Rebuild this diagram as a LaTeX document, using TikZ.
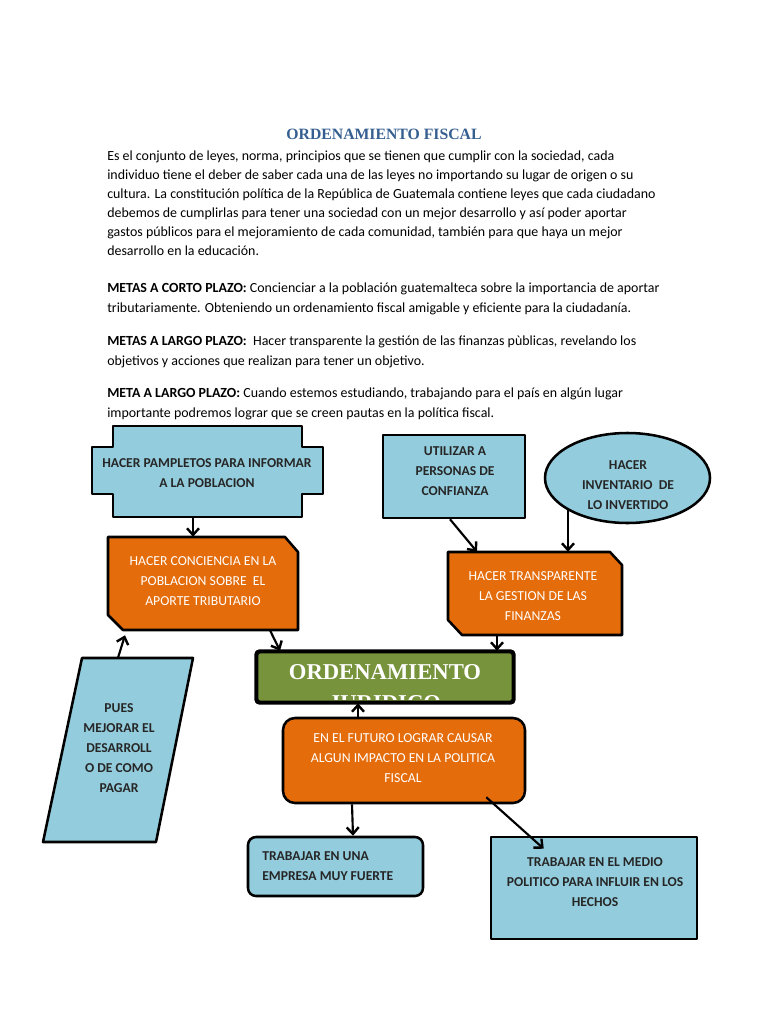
\documentclass[tikz,border=0pt]{standalone}
\usepackage{fontspec}
\setmainfont{Carlito}
\newfontfamily\serifb{Liberation Serif}
\usetikzlibrary{arrows.meta,calc,shapes.geometric}
\definecolor{titleblue}{HTML}{365F91}
\definecolor{lblue}{HTML}{93CDDD}
\definecolor{orng}{HTML}{E46C0A}
\definecolor{olive}{HTML}{77933C}
\definecolor{txtdark}{HTML}{262626}
\begin{document}
\begin{tikzpicture}[x=0.75pt,y=-0.75pt,
  body/.style={anchor=base west, inner sep=0, font=\fontsize{10.45}{12}\selectfont},
  shp/.style={draw=black, line width=1.9pt, line join=round},
  bluebox/.style={shp, fill=lblue},
  orgbox/.style={shp, fill=orng},
  holder/.style={draw=none, inner sep=0},
  btxt/.style={align=center, font=\bfseries\fontsize{10.2}{15}\selectfont, text=txtdark, inner sep=0},
  otxt/.style={align=center, font=\fontsize{10.3}{15}\selectfont, text=white, inner sep=0},
  arr/.style={line width=1.6pt, -{Straight Barb[length=5pt,width=9pt,line width=1.8pt]}}
]
\useasboundingbox (0,0) rectangle (768,1024);
\fill[white] (0,0) rectangle (768,1024);

% ---------- title and text ----------
\node[inner sep=0, text=titleblue, font=\serifb\bfseries\fontsize{11.8}{14}\selectfont] (title) at (384,134) {ORDENAMIENTO FISCAL};
\node[body] (l1) at (107,160) {Es el conjunto de leyes, norma, principios que se tienen que cumplir con la sociedad, cada};
\node[body] (l2) at (107,179) {individuo tiene el deber de saber cada una de las leyes no importando su lugar de origen o su};
\node[body] (l3) at (107,198) {cultura. La constitución política de la República de Guatemala contiene leyes que cada ciudadano};
\node[body] (l4) at (107,217) {debemos de cumplirlas para tener una sociedad con un mejor desarrollo y así poder aportar};
\node[body] (l5) at (107,236) {gastos públicos para el mejoramiento de cada comunidad, también para que haya un mejor};
\node[body] (l6) at (107,255) {desarrollo en la educación.};
\node[body] (m1) at (107,292.5) {\textbf{METAS A CORTO PLAZO:} Concienciar a la población guatemalteca sobre la importancia de aportar};
\node[body] (m2) at (107,312.5) {tributariamente. Obteniendo un ordenamiento fiscal amigable y eficiente para la ciudadanía.};
\node[body] (m3) at (107,345) {\textbf{METAS A LARGO PLAZO:}\ \ Hacer transparente la gestión de las finanzas pùblicas, revelando los};
\node[body] (m4) at (107,365) {objetivos y acciones que realizan para tener un objetivo.};
\node[body] (m5) at (107,397.5) {\textbf{META A LARGO PLAZO:} Cuando estemos estudiando, trabajando para el país en algún lugar};
\node[body] (m6) at (107,417.5) {importante podremos lograr que se creen pautas en la política fiscal.};

% ---------- shapes ----------
% pampletos (notched)
\node[holder, minimum width=173.25pt, minimum height=68.25pt] (pamp) at (207.5,471.5) {};
\draw[bluebox] (113,426) -- (302,426) -- (302,447) -- (323,447) -- (323,494) -- (302,494) -- (302,517) -- (113,517) -- (113,494) -- (92,494) -- (92,447) -- (113,447) -- cycle;
\node[btxt] (pampt) at (207,473.5) {HACER PAMPLETOS PARA INFORMAR\\A LA POBLACION};

% conciencia (snipped corners)
\node[holder, minimum width=142.5pt, minimum height=69.75pt] (conc) at (203,583.5) {};
\draw[orgbox] (108,537) -- (285,537) -- (298,552) -- (298,630) -- (123,630) -- (108,615) -- cycle;
\node[otxt] (conct) at (203,581) {HACER CONCIENCIA EN LA\\POBLACION SOBRE\ \ EL\\APORTE TRIBUTARIO};

% utilizar
\node[bluebox, minimum width=106.5pt, minimum height=62.25pt, inner sep=0] (util) at (454,476.5) {};
\node[btxt] (utilt) at (455,471) {UTILIZAR A\\PERSONAS DE\\CONFIANZA};

% inventario (ellipse)
\node[bluebox, ellipse, minimum width=123.75pt, minimum height=67.5pt, inner sep=0] (inv) at (627.5,478) {};
\node[btxt] (invt) at (628,485) {HACER\\INVENTARIO\ \ DE\\LO INVERTIDO};

% transparente
\node[holder, minimum width=130.5pt, minimum height=62.25pt] (transp) at (535,593.5) {};
\draw[orgbox] (448,552) -- (610,552) -- (622,565) -- (622,635) -- (462,635) -- (448,620) -- cycle;
\node[otxt] (transpt) at (533,596) {HACER TRANSPARENTE\\LA GESTION DE LAS\\FINANZAS};

% ordenamiento juridico
\node[shp, fill=olive, rounded corners=2.5pt, minimum width=192pt, minimum height=37.5pt, inner sep=0] (ord) at (385,677) {};
\begin{scope}
  \clip (259,654) rectangle (511,699);
  \node[inner sep=0, text=white, anchor=base, font=\serifb\bfseries\fontsize{17}{21}\selectfont] (ordt) at (385,679) {ORDENAMIENTO};
  \node[inner sep=0, text=white, anchor=base, font=\serifb\bfseries\fontsize{17}{21}\selectfont] (ordt2) at (385,710) {JURIDICO};
\end{scope}
\draw[shp, rounded corners=2.5pt] (ord.north west) rectangle (ord.south east);

% futuro
\node[orgbox, rounded corners=9pt, minimum width=181.5pt, minimum height=63.75pt, inner sep=0] (fut) at (404,760.5) {};
\node[otxt] (futt) at (403,758) {EN EL FUTURO LOGRAR CAUSAR\\ALGUN IMPACTO EN LA POLITICA\\FISCAL};

% pues (parallelogram)
\node[holder, minimum width=112.5pt, minimum height=138pt] (pues) at (118,750) {};
\draw[bluebox] (82,658) -- (193,658) -- (156,842) -- (43,842) -- cycle;
\node[btxt] (puest) at (119,748) {PUES\\MEJORAR EL\\DESARROLL\\O DE COMO\\PAGAR};

% empresa
\node[bluebox, rounded corners=6pt, minimum width=131.25pt, minimum height=44.25pt, inner sep=0] (emp) at (335.5,866.5) {};
\node[btxt, align=left, anchor=west] (empt) at (262,866) {TRABAJAR EN UNA\\EMPRESA MUY FUERTE};

% politico
\node[bluebox, minimum width=154.5pt, minimum height=76.5pt, inner sep=0] (pol) at (594,888) {};
\node[btxt] (polt) at (595,882) {TRABAJAR EN EL MEDIO\\POLITICO PARA INFLUIR EN LOS\\HECHOS};

% ---------- connectors ----------
\draw[arr] ($(pamp.south)+(-14.5,0)$) -- ($(conc.north)+(-10,0)$);
\draw[arr] ($(util.south)+(-4,0)$) -- ($(transp.north)+(-58,0)$);
\draw[arr] ($(inv.center)+(-59.5,31.5)$) -- ($(transp.north)+(33,0)$);
\draw[arr] ($(transp.south)+(-38,0)$) -- ($(ord.north)+(112,0)$);
\draw[arr] ($(conc.south)+(67,0)$) -- ($(ord.north)+(-105,0)$);
\draw[arr] ($(pues.north)+(0,0)$) -- ($(conc.south)+(-78,5)$);
\draw[arr] ($(fut.north)+(-46,0)$) -- ($(ord.south)+(-27,0)$);
\draw[arr] ($(fut.south)+(-52,0)$) -- ($(emp.north)+(17.5,0)$);
\draw[arr] ($(fut.south east)+(-40,-7)$) -- ($(pol.north west)+(54,13)$);
\end{tikzpicture}
\end{document}
